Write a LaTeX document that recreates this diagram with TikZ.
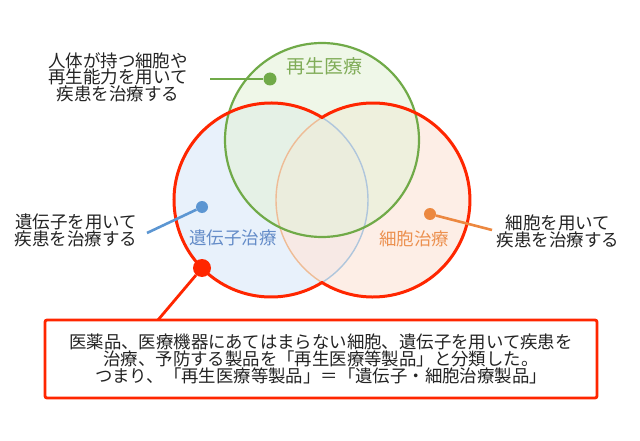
\documentclass[tikz,border=0pt]{standalone}
\usepackage{fontspec}
\setmainfont{Noto Sans CJK JP}
\usepackage{tikz}
\usetikzlibrary{positioning,calc}
\usepackage{xcolor}
\definecolor{ink}{RGB}{35,35,35}
\definecolor{regen}{RGB}{112,170,72}
\definecolor{regenT}{RGB}{128,172,88}
\definecolor{regenF}{RGB}{228,241,216}
\definecolor{gene}{RGB}{92,150,210}
\definecolor{geneT}{RGB}{100,140,200}
\definecolor{geneL}{RGB}{175,198,220}
\definecolor{geneF}{RGB}{224,236,250}
\definecolor{cell}{RGB}{236,136,64}
\definecolor{cellT}{RGB}{236,145,80}
\definecolor{cellL}{RGB}{238,188,150}
\definecolor{cellF}{RGB}{253,232,222}
\definecolor{alertred}{RGB}{255,38,0}
\tikzset{
  note/.style={font=\fontsize{17.5}{16.5}\selectfont,text=ink,align=center,inner sep=0pt},
  area/.style={font=\fontsize{17.5}{20}\selectfont,inner sep=0pt},
  dot/.style={circle,inner sep=0pt,minimum size=#1},
  lead/.style={line width=2.6pt},
  summary/.style={draw=alertred,line width=2.8pt,rounded corners=2pt,fill=white,
    minimum width=552pt,minimum height=78pt,align=center,text=ink,
    font=\fontsize{17.4}{17}\selectfont},
}

\begin{document}
\begin{tikzpicture}[x=1pt,y=1pt]
\useasboundingbox (0,0) rectangle (640,440);
\def\R{97}
% circles
\fill[geneF,fill opacity=.75] (271,240) circle (\R);
\fill[cellF,fill opacity=.75] (373,240) circle (\R);
\fill[regenF,fill opacity=.6] (322,300) circle (\R);
\draw[geneL,line width=1.4pt] (271,240) circle (\R);
\draw[cellL,line width=1.4pt] (373,240) circle (\R);
\draw[regen,line width=2.2pt] (322,300) circle (\R);
\draw[alertred,line width=3pt] (271,240) ++(58.3:\R) arc (58.3:301.7:\R)
  arc (238.3:481.7:\R) -- cycle;
% circle labels
\node[area,text=regenT,font=\fontsize{19}{20}\selectfont] (lblRegen) at (324,374) {再生医療};
\node[area,text=geneT] (lblGene) at (233,202) {遺伝子治療};
\node[area,text=cellT] (lblCell) at (414,201) {細胞治療};
% side notes
\node[note] (txtRegen) at (118,363) {人体が持つ細胞や\\再生能力を用いて\\疾患を治療する};
\node[note] (txtGene) at (76,209.5) {遺伝子を用いて\\疾患を治療する};
\node[note] (txtCell) at (558,208.5) {細胞を用いて\\疾患を治療する};
\node[dot=13pt,fill=regen] (dotRegen) at (270,361) {};
\node[dot=12pt,fill=gene] (dotGene) at (202,233) {};
\node[dot=12pt,fill=cell] (dotCell) at (430,226) {};
\coordinate (endRegen) at (210,361);
\coordinate (endGene) at (147,207);
\coordinate (endCell) at (492,210);
\draw[lead,regen] (endRegen) -- (dotRegen);
\draw[lead,gene] (endGene) -- (dotGene);
\draw[lead,cell] (endCell) -- (dotCell);
% summary box
\node[dot=18pt,fill=alertred] (dotMark) at (202,172) {};
\coordinate (endMark) at (158,120);
\draw[alertred,line width=2.8pt] (dotMark) -- (endMark);
\node[summary] (box) at (321,81) {医薬品、医療機器にあてはまらない細胞、遺伝子を用いて疾患を\\
  治療、予防する製品を「再生医療等製品」と分類した。\\
  つまり、「再生医療等製品」＝「遺伝子・細胞治療製品」};
\end{tikzpicture}
\end{document}
